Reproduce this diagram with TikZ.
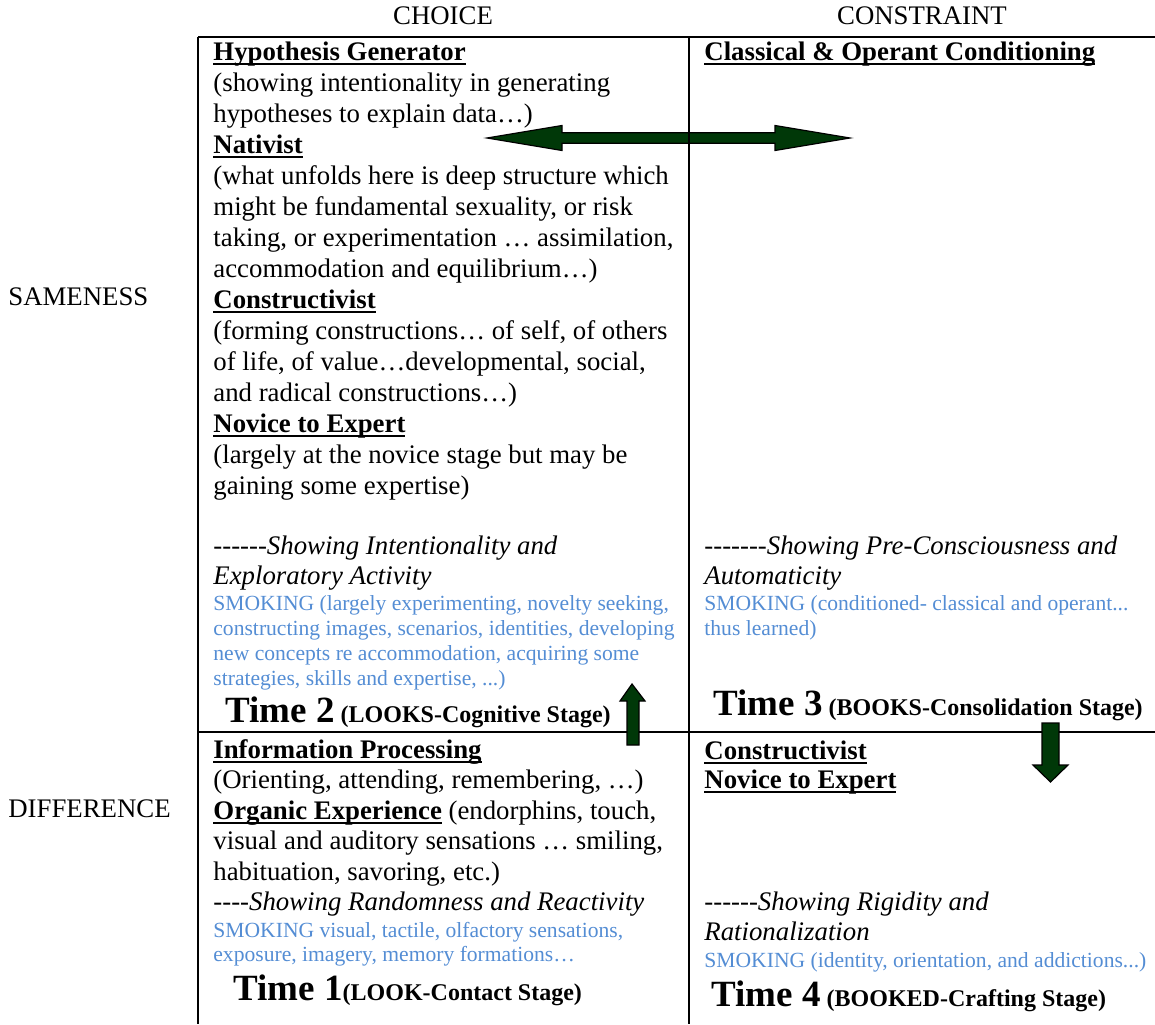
\documentclass[tikz,border=0pt]{standalone}
\usepackage{fontspec}
\setmainfont{Liberation Serif}[Ligatures=TeXOff]
\usepackage{tikz}
\usetikzlibrary{calc}
\definecolor{smokeblue}{RGB}{84,141,212}
\definecolor{arrowgreen}{RGB}{0,56,8}

\tikzset{
  grid line/.style={line width=1pt},
  txt/.style={inner sep=0pt, anchor=base west, font=\fontsize{13.4}{15.5}\selectfont},
  lbl/.style={txt, anchor=base},
  note/.style={txt, font=\fontsize{13.4}{15.5}\selectfont\itshape},
  smoke/.style={txt, text=smokeblue, font=\fontsize{10.8}{12.5}\selectfont},
  stage/.style={txt, font=\fontsize{12}{14}\selectfont\bfseries},
  blockarrow/.style={fill=arrowgreen, draw=black, line width=0.6pt, line join=miter},
}
\newcommand\bigtime[1]{{\fontsize{18.5}{20}\selectfont #1}}
\newsavebox\headbox
\newcommand\headword[1]{%
  \sbox\headbox{\bfseries #1}%
  \rlap{\raisebox{-2.4pt}{\rule{\wd\headbox}{1pt}}}\usebox\headbox}
\newcommand\threedots{...}
% one node per printed line: name, style, x, first baseline, step, lines
\newcommand\textrows[6]{%
  \foreach \rowtext [count=\k from 0] in {#6}
    \node[#2] (#1\k) at (#3,{#4+\k*#5}) {\rowtext};}

\begin{document}
\begin{tikzpicture}[x=0.5pt,y=-0.5pt]
    \useasboundingbox (0,0) rectangle (1155,1024);
    % column and row labels
    \node[lbl] (choice) at (443,24) {CHOICE};
    \node[lbl] (constraint) at (922,24) {CONSTRAINT};
    \node[txt] (sameness) at (8,305) {SAMENESS};
    \node[txt] (difference) at (8,817) {DIFFERENCE};

    % top left: choice / sameness
    \textrows{tl}{txt}{213}{60}{31}{%
      {\headword{Hypothesis Generator}},
      {(showing intentionality in generating},
      {hypotheses to explain data…)},
      {\headword{Nativist}},
      {(what unfolds here is deep structure which},
      {might be fundamental sexuality, or risk},
      {taking, or experimentation … assimilation,},
      {accommodation and equilibrium…)},
      {\headword{Constructivist}},
      {(forming constructions… of self, of others},
      {of life, of value…developmental, social,},
      {and radical constructions…)},
      {\headword{Novice to Expert}},
      {(largely at the novice stage but may be},
      {gaining some expertise)}}
    \textrows{tlnote}{note}{213}{554}{30}{%
      {------Showing Intentionality and},
      {Exploratory Activity}}
    \textrows{tlsmoke}{smoke}{213}{610}{25}{%
      {SMOKING (largely experimenting, novelty seeking,},
      {constructing images, scenarios, identities, developing},
      {new concepts re accommodation, acquiring some},
      {strategies, skills and expertise, \threedots)}}
    \node[stage] (time2) at (225,722) {\bigtime{Time 2} (LOOKS-Cognitive Stage)};

    % top right: constraint / sameness
    \node[txt] (classical) at (704,60) {\headword{Classical \& Operant Conditioning}};
    \textrows{trnote}{note}{704}{554}{30}{%
      {-------Showing Pre-Consciousness and},
      {Automaticity}}
    \textrows{trsmoke}{smoke}{704}{610}{25}{%
      {SMOKING (conditioned- classical and operant\threedots},
      {thus learned)}}
    \node[stage] (time3) at (713,715) {\bigtime{Time 3} (BOOKS-Consolidation Stage)};

    % bottom left: choice / difference
    \textrows{bl}{txt}{213}{758}{30.5}{%
      {\headword{Information Processing}},
      {(Orienting, attending, remembering, …)},
      {\headword{Organic Experience} (endorphins, touch,},
      {visual and auditory sensations … smiling,},
      {habituation, savoring, etc.)}}
    \node[note] (blnote) at (213,910) {----Showing Randomness and Reactivity};
    \textrows{blsmoke}{smoke}{213}{937}{24.5}{%
      {SMOKING visual, tactile, olfactory sensations,},
      {exposure, imagery, memory formations…}}
    \node[stage] (time1) at (233,1000) {\bigtime{Time 1}(LOOK-Contact Stage)};

    % bottom right: constraint / difference
    \textrows{br}{txt}{704}{759}{29.5}{%
      {\headword{Constructivist}},
      {\headword{Novice to Expert}}}
    \textrows{brnote}{note}{704}{910}{30}{%
      {------Showing Rigidity and},
      {Rationalization}}
    \node[smoke] (brsmoke) at (704,967) {SMOKING (identity, orientation, and addictions\threedots)};
    \node[stage] (time4) at (711,1006) {\bigtime{Time 4} (BOOKED-Crafting Stage)};

    % two-way arrow across the top row
    \draw[blockarrow] (487,138) -- (562,125.5) -- (562,132.7) -- (775,132.7) -- (775,125.5)
      -- (850,138) -- (775,150.5) -- (775,143.3) -- (562,143.3) -- (562,150.5) -- cycle;

    % table rules
    \draw[grid line] (198,37) -- (1155,37);
    \draw[grid line] (198,732) -- (1155,732);
    \draw[grid line] (198,37) -- (198,1024);
    \draw[grid line] (689,37) -- (689,1024);

    % up and down arrows
    \draw[blockarrow] (632,684) -- (645,701) -- (639,701) -- (639,745) -- (627,745)
      -- (627,701) -- (620,701) -- cycle;
    \draw[blockarrow] (1050.5,782) -- (1068,765) -- (1059,765) -- (1059,723) -- (1042,723)
      -- (1042,765) -- (1033,765) -- cycle;
\end{tikzpicture}
\end{document}
